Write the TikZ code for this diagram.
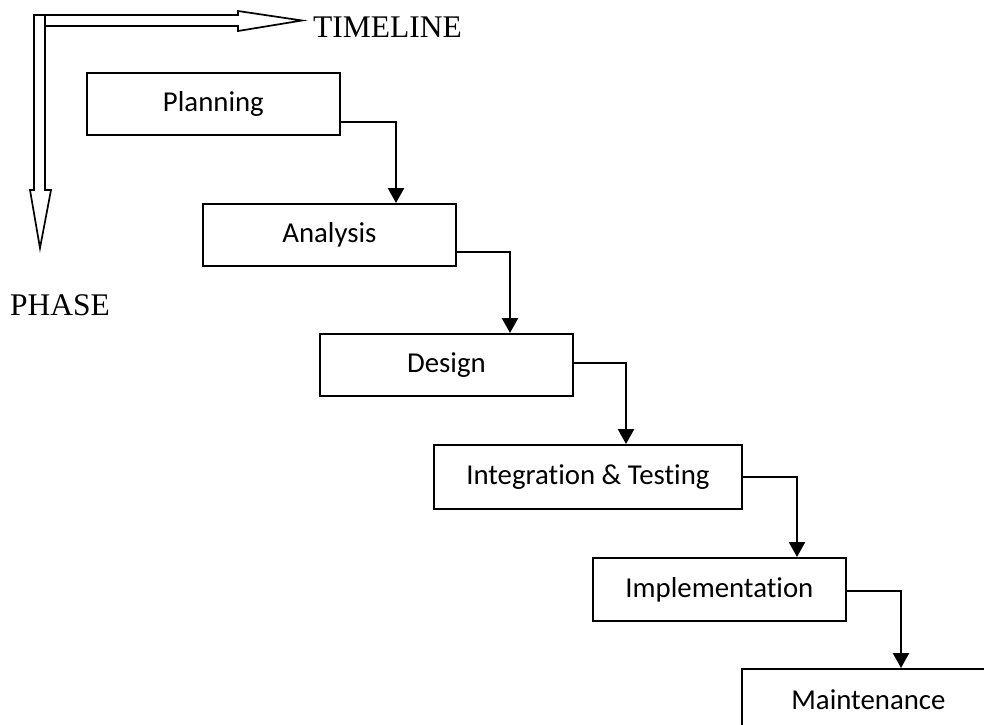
\documentclass[tikz,border=0pt]{standalone}
\usepackage{fontspec}
\setmainfont{Liberation Serif}
\newfontfamily\boxfont[Ligatures={NoCommon}]{Carlito}
\usetikzlibrary{arrows.meta}
\tikzset{
  phasebox/.style={draw, line width=1.8pt, rectangle, inner sep=0pt,
    minimum width=253pt, minimum height=62pt, anchor=north west,
    font=\boxfont\fontsize{28.8}{32}\selectfont},
  conn/.style={line width=2.4pt, -{Triangle[length=15pt,width=16pt]}},
  hollow/.style={draw, line width=1.7pt, fill=white, line join=miter},
  axislabel/.style={anchor=base west, inner sep=0pt,
    font=\fontsize{31.5}{36}\selectfont}
}
\begin{document}
\begin{tikzpicture}[x=1pt, y=-1pt]
  \useasboundingbox (0,0) rectangle (984,724);
  \clip (0,0) rectangle (984,724);

  % timeline and phase axes (hollow block arrows)
  \draw[hollow] (45,15) -- (238,15) -- (238,11) -- (302,20.5) -- (238,31)
    -- (238,26) -- (45,26);
  \draw[hollow] (34,15) -- (45,15) -- (45,190) -- (51,190) -- (40,248)
    -- (30,190) -- (34,190) -- cycle;
  \node[axislabel] (timeline) at (313,37) {TIMELINE};
  \node[axislabel] (phase) at (10,315) {PHASE};

  % phases
  \node[phasebox] (plan) at (86,72) {Planning};
  \node[phasebox] (anal) at (202,203) {Analysis};
  \node[phasebox] (design) at (319,333) {Design};
  \node[phasebox, minimum width=308pt, minimum height=64pt] (integ) at (433,444) {Integration \& Testing};
  \node[phasebox, minimum height=63pt] (impl) at (592,557) {Implementation};
  \node[phasebox] (maint) at (741,668) {Maintenance};

  % waterfall connectors
  \draw[conn] (plan.east |- 0,122) -| (anal.north -| 396,0);
  \draw[conn] (anal.east |- 0,252) -| (design.north -| 510,0);
  \draw[conn] (design.east |- 0,363) -| (integ.north -| 626,0);
  \draw[conn] (integ.east |- 0,477) -| (impl.north -| 797,0);
  \draw[conn] (impl.east |- 0,591) -| (maint.north -| 901,0);
\end{tikzpicture}
\end{document}
